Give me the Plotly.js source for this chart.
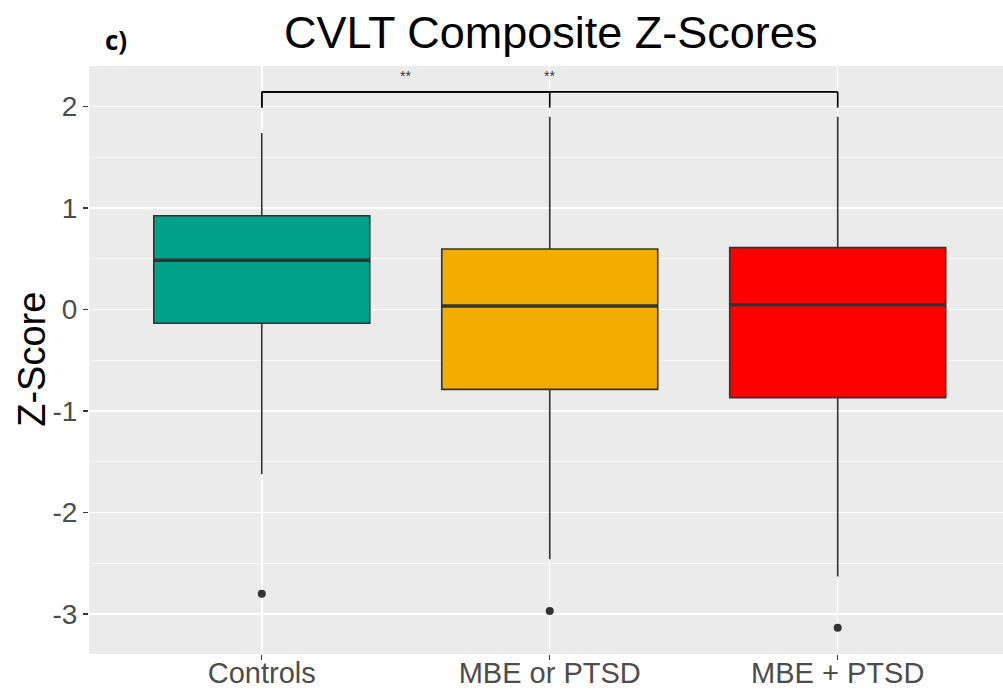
<!DOCTYPE html>
<html>
<head>
<meta charset="utf-8">
<script src="https://cdn.plot.ly/plotly-3.0.1.min.js"></script>
<style>html,body{margin:0;padding:0;background:#fff;}#chart{width:1003px;height:691px;}</style>
</head>
<body>
<div id="chart"></div>
<script>
// ---- data ----
const categories = ['Controls', 'MBE or PTSD', 'MBE + PTSD'];
const q1 = [-0.135, -0.786, -0.868];
const medians = [0.486, 0.035, 0.048];
const q3 = [0.925, 0.597, 0.61];
const lowerWhisker = [-1.623, -2.46, -2.63];
const upperWhisker = [1.74, 1.90, 1.90];
const outliers = [-2.80, -2.97, -3.135];
const boxColors = ['#00A08A', '#F2AD00', '#FF0000'];

const yTickVals = [-3, -2, -1, 0, 1, 2];
const yTickText = ['-3', '-2', '-1', '0', '1', '2'];

// significance comparisons (category indices)
const compStart = [0, 0];
const compEnd = [1, 2];
const compY = [2.145, 2.145];
const compTip = [1.99, 1.99];
const compLabel = ['**', '**'];
const compLabelY = [2.30, 2.30];

const BOX_W = 0.75;
const FONT = 'Liberation Sans, Arial, Helvetica, sans-serif';

const traces = categories.map((c, i) => ({
  type: 'box',
  x: [c],
  q1: [q1[i]],
  median: [medians[i]],
  q3: [q3[i]],
  lowerfence: [lowerWhisker[i]],
  upperfence: [upperWhisker[i]],
  width: BOX_W,
  whiskerwidth: 0,
  fillcolor: boxColors[i],
  line: {color: '#333333', width: 1.6},
  hoverinfo: 'skip',
  showlegend: false
}));

traces.push({
  type: 'scatter',
  mode: 'markers',
  x: categories,
  y: outliers,
  marker: {color: '#333333', size: 8},
  hoverinfo: 'skip',
  showlegend: false
});

const shapes = [];
// thicker median lines
medians.forEach((m, i) => {
  shapes.push({type: 'line', xref: 'x', yref: 'y', x0: i - BOX_W / 2, x1: i + BOX_W / 2, y0: m, y1: m,
    line: {color: '#333333', width: 3.5}, layer: 'above'});
});
// significance brackets
compStart.forEach((s, k) => {
  const e = compEnd[k];
  const lineStyle = {color: '#000000', width: 1.6};
  shapes.push({type: 'line', xref: 'x', yref: 'y', x0: s, x1: s, y0: compTip[k], y1: compY[k], line: lineStyle});
  shapes.push({type: 'line', xref: 'x', yref: 'y', x0: s, x1: e, y0: compY[k], y1: compY[k], line: lineStyle});
  shapes.push({type: 'line', xref: 'x', yref: 'y', x0: e, x1: e, y0: compTip[k], y1: compY[k], line: lineStyle});
});

const annotations = compStart.map((s, k) => ({
  xref: 'x', yref: 'y', x: (s + compEnd[k]) / 2, y: compLabelY[k],
  text: compLabel[k], showarrow: false,
  font: {family: FONT, size: 14, color: '#333333'},
  xanchor: 'center', yanchor: 'middle'
}));

annotations.push({
  xref: 'paper', yref: 'paper', x: -0.0624, y: 0.502,
  text: 'Z-Score', textangle: -90, showarrow: false,
  font: {family: FONT, size: 38, color: '#000000'},
  xanchor: 'center', yanchor: 'middle'
});
annotations.push({
  xref: 'paper', yref: 'paper', x: 0.0295, y: 1.044,
  text: '<b>c)</b>', showarrow: false,
  font: {family: 'Open Sans, DejaVu Sans, sans-serif', size: 26, color: '#000000'},
  xanchor: 'center', yanchor: 'middle'
});

const layout = {
  width: 1003,
  height: 691,
  margin: {l: 89, r: 0, t: 66, b: 37, pad: 0},
  paper_bgcolor: '#FFFFFF',
  plot_bgcolor: '#EBEBEB',
  showlegend: false,
  boxmode: 'overlay',
  title: {
    text: 'CVLT Composite Z-Scores',
    font: {family: FONT, size: 45, color: '#000000'},
    x: 0.549, xref: 'container', xanchor: 'center',
    y: 0.954, yref: 'container', yanchor: 'middle'
  },
  xaxis: {
    type: 'category',
    categoryorder: 'array',
    categoryarray: categories,
    range: [-0.6, 2.574],
    showgrid: true, gridcolor: '#FFFFFF', gridwidth: 1.5,
    zeroline: false, showline: false,
    ticks: 'outside', ticklen: 5, tickwidth: 1.2, tickcolor: '#333333',
    tickfont: {family: FONT, size: 29, color: '#4D4D4D'},
    ticklabelstandoff: -12,
    automargin: false
  },
  yaxis: {
    range: [-3.394, 2.40],
    tickmode: 'array', tickvals: yTickVals, ticktext: yTickText,
    showgrid: true, gridcolor: '#FFFFFF', gridwidth: 1.5,
    minor: {tick0: 0, dtick: 0.5, showgrid: true, gridcolor: '#FFFFFF', gridwidth: 0.7, ticks: ''},
    zeroline: false, showline: false,
    ticks: 'outside', ticklen: 5, tickwidth: 1.2, tickcolor: '#333333',
    tickfont: {family: FONT, size: 28, color: '#4D4D4D'},
    automargin: false
  },
  shapes: shapes,
  annotations: annotations
};

Plotly.newPlot('chart', traces, layout, {displayModeBar: false, staticPlot: true});
</script>
</body>
</html>
